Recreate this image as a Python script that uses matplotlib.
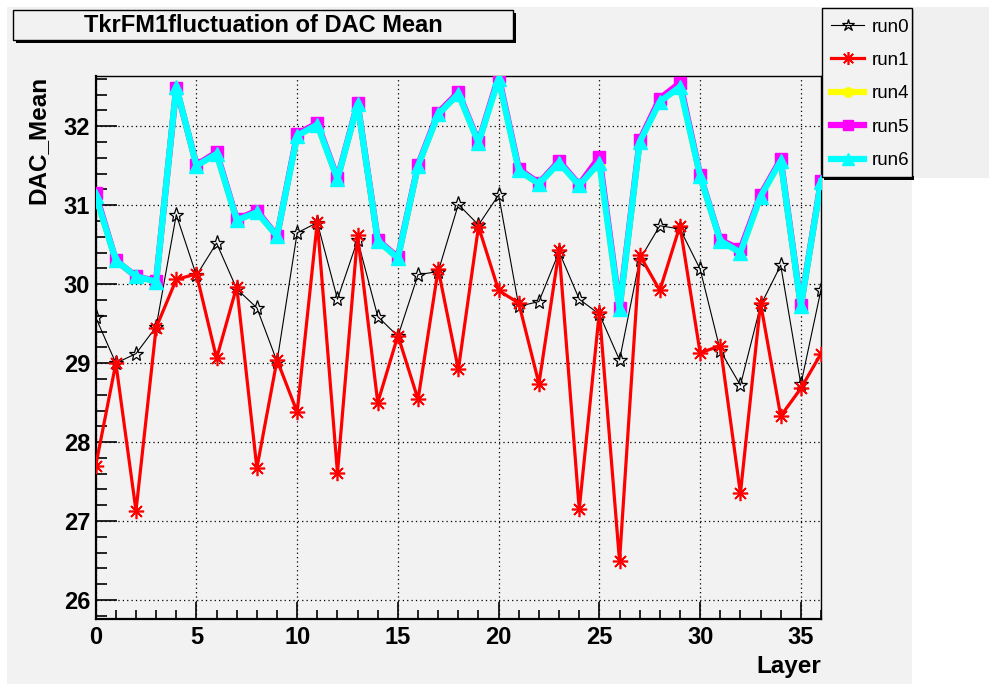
import numpy as np
import matplotlib
matplotlib.use('Agg')
import matplotlib.pyplot as plt
from matplotlib.patches import Rectangle
from matplotlib.ticker import MultipleLocator

plt.rcParams['font.family'] = ['Liberation Sans', 'DejaVu Sans']

layers = np.arange(37)
run0 = [29.58, 29.00, 29.12, 29.46, 30.88, 30.11, 30.52, 29.94, 29.70, 29.02,
        30.65, 30.78, 29.81, 30.56, 29.59, 29.34, 30.12, 30.16, 31.01, 30.75,
        31.13, 29.72, 29.78, 30.41, 29.81, 29.62, 29.04, 30.31, 30.74, 30.70,
        30.19, 29.16, 28.72, 29.73, 30.24, 28.73, 29.93]
run1 = [27.70, 29.00, 27.13, 29.45, 30.06, 30.13, 29.06, 29.97, 27.67, 29.04,
        28.38, 30.79, 27.61, 30.62, 28.50, 29.35, 28.54, 30.19, 28.92, 30.73,
        29.92, 29.76, 28.74, 30.43, 27.15, 29.65, 26.49, 30.37, 29.92, 30.74,
        29.13, 29.22, 27.35, 29.76, 28.33, 28.68, 29.12]
run5 = [31.15, 30.30, 30.10, 30.04, 32.49, 31.51, 31.67, 30.82, 30.93, 30.61,
        31.90, 32.04, 31.34, 32.29, 30.56, 30.34, 31.51, 32.17, 32.43, 31.80,
        32.63, 31.46, 31.28, 31.56, 31.26, 31.61, 29.70, 31.82, 32.35, 32.55,
        31.38, 30.56, 30.44, 31.13, 31.58, 29.73, 31.31]
run6 = [31.12, 30.30, 30.10, 30.03, 32.50, 31.50, 31.65, 30.81, 30.91, 30.61,
        31.88, 32.02, 31.33, 32.28, 30.55, 30.33, 31.50, 32.15, 32.41, 31.79,
        32.60, 31.44, 31.27, 31.54, 31.25, 31.54, 29.68, 31.80, 32.31, 32.50,
        31.37, 30.55, 30.40, 31.11, 31.56, 29.72, 31.30]
run4 = list(run6)

BG = '#f2f2f2'
W, H = 989, 684

fig = plt.figure(figsize=(W / 100, H / 100), dpi=100)
fig.patch.set_facecolor('white')

def px_rect(x0, y0, x1, y1, **kw):
    # rectangle given in pixel coords measured from the top-left corner
    r = Rectangle((x0 / W, 1 - y1 / H), (x1 - x0) / W, (y1 - y0) / H,
                  transform=fig.transFigure, **kw)
    fig.add_artist(r)
    return r

# canvas background
px_rect(7, 7, 912, H, facecolor=BG, edgecolor='none', zorder=-10)
px_rect(912, 7, W, 178, facecolor='#f0f0f0', edgecolor='none', zorder=-10)

ax = fig.add_axes([95.7 / W, 1 - 619 / H, (821 - 95.7) / W, (619 - 75.7) / H])
ax.set_facecolor(BG)

ax.plot(layers, run0, color='black', lw=0.8, marker='*', ms=11,
        mfc='none', mec='black', mew=0.9, label='run0', zorder=3)
ax.plot(layers, run1, color='red', lw=2.3, marker=(8, 2, 0), ms=11,
        mec='red', mew=1.2, label='run1', zorder=4)
ax.plot(layers, run4, color='yellow', lw=4.5, marker='o', ms=8,
        label='run4', zorder=5)
ax.plot(layers, run5, color='magenta', lw=4.5, marker='s', ms=8,
        label='run5', zorder=6)
ax.plot(layers, run6, color='cyan', lw=4.5, marker='^', ms=9.5,
        label='run6', zorder=7)

ax.set_xlim(0, 36)
ax.set_ylim(25.76, 32.64)
ax.xaxis.set_major_locator(MultipleLocator(5))
ax.xaxis.set_minor_locator(MultipleLocator(1))
ax.yaxis.set_major_locator(MultipleLocator(1))
ax.yaxis.set_minor_locator(MultipleLocator(0.2))
ax.tick_params(axis='both', which='both', direction='in', top=False, right=False,
               labelsize=17, width=1.2)
ax.tick_params(axis='x', which='major', length=12, pad=5)
ax.tick_params(axis='x', which='minor', length=6.5)
ax.tick_params(axis='y', which='major', length=15, pad=4)
ax.tick_params(axis='y', which='minor', length=8)
for lab in ax.get_xticklabels() + ax.get_yticklabels():
    lab.set_fontweight('bold')
ax.grid(True, which='major', color='black', ls=(0, (1, 2.5)), lw=0.9)

for side in ('left', 'bottom'):
    ax.spines[side].set_linewidth(1.6)
for side in ('top', 'right'):
    ax.spines[side].set_linewidth(1.0)

ax.set_xlabel('Layer', fontsize=17.5, fontweight='bold', loc='right', labelpad=4)
ax.set_ylabel('DAC_Mean', fontsize=17.5, fontweight='bold', loc='top', labelpad=10)

# title box with shadow
px_rect(16, 13, 516, 43, facecolor='black', edgecolor='none', zorder=1)
px_rect(13, 10, 513, 40, facecolor=BG, edgecolor='black', lw=1.0, zorder=2)
fig.text(263 / W, 1 - 26 / H, 'TkrFM1fluctuation of DAC Mean', fontsize=17,
         fontweight='bold', ha='center', va='center', zorder=3)

# legend box with shadow
px_rect(824, 10, 914, 180, facecolor='#c8c8c8', edgecolor='none', zorder=1)
px_rect(824, 176, 914, 180, facecolor='black', edgecolor='none', zorder=1.5)
px_rect(821.5, 7.5, 911.5, 177, facecolor=BG, edgecolor='black', lw=1.0, zorder=2)
handles, labels = ax.get_legend_handles_labels()
leg = fig.legend(handles, labels, loc='upper left',
                 bbox_to_anchor=(822 / W, 1 - 9 / H), frameon=False,
                 fontsize=13.5, handlelength=1.75, handletextpad=0.4,
                 labelspacing=0.87, borderaxespad=0, borderpad=0.5,
                 markerscale=0.85)
leg.set_zorder(4)

fig.savefig('out.png', dpi=100, facecolor=fig.get_facecolor())
